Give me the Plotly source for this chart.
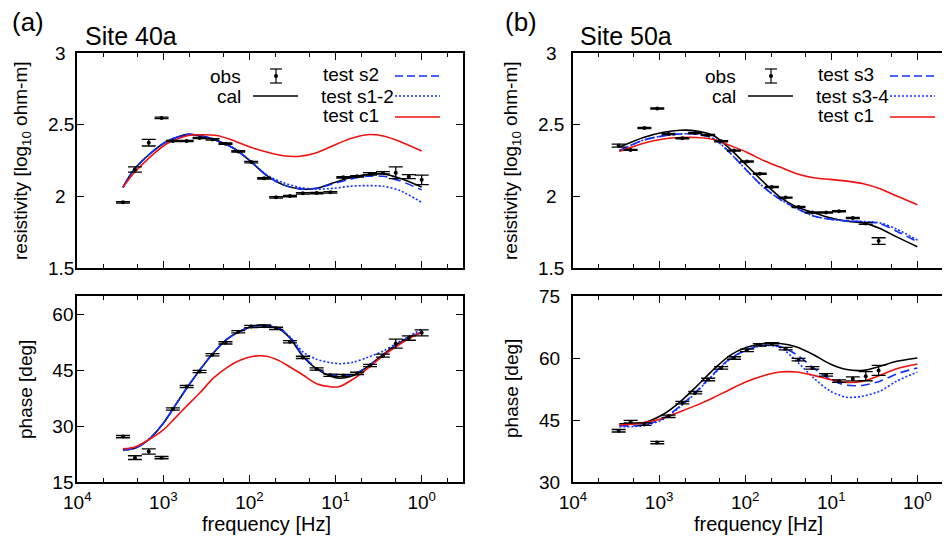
import numpy as np
import plotly.graph_objects as go

# page is 950x540; the html body adds an 8 px margin, so the figure is drawn 8 px in
W, H = 950, 540
OX, OY = 8, 8
FW, FH = W - OX, H - OY
FONT = "Liberation Sans, Arial, Helvetica, sans-serif"
BLUE = "#1030ff"
RED = "#f01010"

# ---------------- Site 40a (panel a) ----------------
freq_obs_a = [2950, 2140, 1480, 1050, 776, 537, 380, 269, 190, 135, 95.5, 67.6,
              49.0, 33.9, 24.0, 16.6, 11.5, 8.13, 5.62, 3.98, 2.82, 2.0, 1.41, 1.0]
rho_obs_a = [1.958, 2.187, 2.374, 2.547, 2.386, 2.386, 2.407, 2.397, 2.367, 2.313, 2.239, 2.126,
             1.993, 2.002, 2.021, 2.023, 2.028, 2.133, 2.140, 2.157, 2.164, 2.164, 2.138, 2.115]
rho_err_a = [0.005, 0.018, 0.023, 0.005, 0.005, 0.005, 0.005, 0.005, 0.005, 0.005, 0.005, 0.005,
             0.005, 0.005, 0.005, 0.005, 0.005, 0.005, 0.005, 0.008, 0.008, 0.041, 0.014, 0.033]
phs_obs_a = [27.2, 21.55, 23.2, 21.55, 34.6, 40.7, 44.7, 49.2, 52.4, 55.4, 56.8, 56.9,
             56.3, 52.7, 48.5, 45.4, 43.7, 43.6, 44.2, 46.3, 48.95, 52.2, 53.7, 55.1]
phs_err_a = [0.3, 0.5, 0.7, 0.3, 0.3, 0.3, 0.3, 0.3, 0.3, 0.3, 0.3, 0.3,
             0.3, 0.3, 0.3, 0.3, 0.3, 0.3, 0.3, 0.3, 0.4, 1.2, 0.6, 0.8]

freq_rho_a = [2950, 2239, 1432, 916, 514, 355, 240, 154, 98.6, 63.1, 40.5, 25.9,
              16.6, 10.6, 6.81, 4.36, 2.79, 1.79, 1.0]
rho_cal_a = [2.063, 2.180, 2.297, 2.383, 2.432, 2.420, 2.390, 2.337, 2.248, 2.145, 2.080, 2.052,
             2.056, 2.094, 2.129, 2.152, 2.157, 2.126, 2.065]
rho_s2_a = [2.063, 2.180, 2.297, 2.383, 2.432, 2.420, 2.390, 2.337, 2.248, 2.145, 2.080, 2.052,
            2.056, 2.088, 2.119, 2.140, 2.140, 2.108, 2.045]
rho_s12_a = [2.063, 2.180, 2.297, 2.383, 2.432, 2.420, 2.390, 2.337, 2.250, 2.150, 2.095, 2.062,
             2.050, 2.056, 2.070, 2.075, 2.070, 2.040, 1.958]
rho_c1_a = [2.063, 2.157, 2.274, 2.367, 2.425, 2.430, 2.425, 2.390, 2.344, 2.309, 2.283, 2.280,
            2.304, 2.355, 2.402, 2.430, 2.421, 2.383, 2.316]

freq_phs_a = [2950, 2138, 1496, 1002, 767, 537, 376, 263, 185, 129, 90.4, 63.2,
              44.3, 33.9, 23.7, 16.6, 11.6, 8.89, 6.22, 4.37, 2.79, 1.95, 1.37, 1.0]
phs_cal_a = [23.6, 24.1, 26.3, 30.8, 34.8, 40.2, 45.2, 49.7, 53.3, 55.5, 56.9, 57.0,
             56.0, 53.7, 48.6, 45.4, 43.5, 42.9, 43.6, 45.8, 49.3, 51.9, 54.0, 55.1]
phs_s2_a = [23.6, 24.1, 26.3, 30.8, 34.8, 40.2, 45.2, 49.7, 53.3, 55.5, 56.9, 57.0,
            56.2, 53.9, 48.9, 45.6, 43.9, 43.5, 43.9, 45.9, 49.2, 51.9, 54.0, 55.3]
phs_s12_a = [23.6, 24.1, 26.3, 30.8, 34.8, 40.2, 45.2, 49.7, 53.3, 55.5, 56.9, 57.0,
             56.2, 54.0, 49.9, 48.0, 47.1, 46.8, 47.2, 48.4, 50.2, 52.3, 54.3, 56.1]
phs_c1_a = [23.9, 24.4, 26.3, 29.0, 31.7, 35.4, 39.0, 42.9, 45.7, 47.7, 48.8, 48.8,
            47.5, 45.9, 43.7, 41.4, 40.6, 40.7, 42.7, 45.3, 49.0, 51.5, 53.7, 55.3]

# ---------------- Site 50a (panel b) ----------------
freq_obs_b = [2950, 2140, 1480, 1050, 776, 537, 380, 269, 190, 135, 95.5, 67.6,
              49.0, 33.9, 24.0, 16.6, 11.5, 8.13, 5.62, 3.98, 2.82]
rho_obs_b = [2.354, 2.324, 2.477, 2.613, 2.435, 2.405, 2.442, 2.428, 2.384, 2.319, 2.243, 2.158,
             2.065, 1.991, 1.926, 1.887, 1.887, 1.896, 1.849, 1.810, 1.688]
rho_err_b = [0.010, 0.004, 0.004, 0.004, 0.004, 0.004, 0.004, 0.004, 0.004, 0.004, 0.004, 0.004,
             0.004, 0.004, 0.004, 0.004, 0.004, 0.004, 0.004, 0.006, 0.023]
phs_obs_b = [42.4, 44.6, 44.0, 39.55, 45.9, 49.2, 51.6, 54.8, 57.6, 60.0, 61.85, 63.2,
             63.4, 62.25, 59.6, 57.6, 55.9, 54.4, 54.95, 55.6, 57.0]
phs_err_b = [0.3, 0.3, 0.3, 0.3, 0.3, 0.3, 0.3, 0.3, 0.3, 0.3, 0.3, 0.3,
             0.3, 0.3, 0.3, 0.3, 0.3, 0.3, 0.5, 1.1, 1.2]

freq_crv_b = [2900, 1521, 891, 570, 365, 234, 150, 95.7, 61.4, 39.4, 25.2, 16.1,
              10.3, 6.61, 4.24, 2.71, 1.74, 1.0]
rho_cal_b = [2.342, 2.410, 2.447, 2.461, 2.456, 2.424, 2.331, 2.215, 2.100, 1.995, 1.926, 1.887,
             1.850, 1.826, 1.815, 1.775, 1.717, 1.648]
rho_s3_b = [2.319, 2.392, 2.422, 2.435, 2.435, 2.403, 2.303, 2.180, 2.065, 1.979, 1.915, 1.863,
            1.840, 1.829, 1.822, 1.810, 1.757, 1.683]
rho_s34_b = [2.319, 2.392, 2.422, 2.435, 2.435, 2.403, 2.303, 2.180, 2.065, 1.979, 1.915, 1.863,
             1.840, 1.829, 1.824, 1.815, 1.771, 1.695]
rho_c1_b = [2.313, 2.370, 2.400, 2.410, 2.410, 2.396, 2.354, 2.308, 2.250, 2.204, 2.158, 2.130,
            2.118, 2.106, 2.088, 2.053, 2.002, 1.942]
phs_cal_b = [44.1, 44.35, 46.4, 49.4, 53.2, 57.2, 60.65, 62.6, 63.5, 63.5, 62.65, 60.8,
             58.55, 57.2, 57.0, 58.0, 59.2, 60.0]
phs_s3_b = [43.6, 43.8, 45.4, 48.4, 52.0, 56.15, 59.85, 62.0, 63.05, 62.8, 60.8, 57.6,
            54.8, 53.4, 53.4, 54.4, 56.15, 57.6]
phs_s34_b = [43.4, 43.6, 45.2, 48.2, 51.8, 56.0, 59.7, 61.9, 63.0, 62.6, 59.2, 55.2,
             52.0, 50.5, 50.8, 52.0, 54.4, 56.6]
phs_c1_b = [43.8, 44.3, 45.5, 47.0, 48.6, 50.4, 52.4, 54.3, 55.7, 56.6, 56.6, 55.8,
            54.8, 54.1, 54.4, 55.8, 57.4, 58.55]

# axis ticks
major_tick_freqs = [1e4, 1e3, 1e2, 1e1, 1e0]
major_tick_text = ["10<sup>4</sup>", "10<sup>3</sup>", "10<sup>2</sup>", "10<sup>1</sup>", "10<sup>0</sup>"]
minor_tick_freqs = [5000, 2000, 500, 200, 50, 20, 5, 2, 0.5]
rho_ticks = [1.5, 2.0, 2.5, 3.0]
rho_tick_text = ["1.5", "2", "2.5", "3"]

legend_a = ["test s2", "test s1-2", "test c1"]
legend_b = ["test s3", "test s3-4", "test c1"]

fig = go.Figure()


def curves(fig, xa, ya, f, cal, t1, t2, c1):
    kw = dict(mode="lines", xaxis=xa, yaxis=ya, showlegend=False, hoverinfo="skip",
              line_shape="spline")
    fig.add_trace(go.Scatter(x=f, y=cal, line=dict(color="black", width=1.6, smoothing=0.8), **kw))
    fig.add_trace(go.Scatter(x=f, y=t1, line=dict(color=BLUE, width=1.6, dash="9px,5px", smoothing=0.8), **kw))
    fig.add_trace(go.Scatter(x=f, y=t2, line=dict(color=BLUE, width=1.6, dash="2px,2px", smoothing=0.8), **kw))
    fig.add_trace(go.Scatter(x=f, y=c1, line=dict(color=RED, width=1.6, smoothing=0.8), **kw))


def obs(fig, xa, ya, f, v, e):
    fig.add_trace(go.Scatter(x=f, y=v, mode="markers", xaxis=xa, yaxis=ya, showlegend=False,
                             marker=dict(color="black", size=4),
                             error_y=dict(type="data", array=e, width=7, thickness=1.3, color="black")))


curves(fig, "x", "y", freq_rho_a, rho_cal_a, rho_s2_a, rho_s12_a, rho_c1_a)
obs(fig, "x", "y", freq_obs_a, rho_obs_a, rho_err_a)
curves(fig, "x2", "y2", freq_phs_a, phs_cal_a, phs_s2_a, phs_s12_a, phs_c1_a)
obs(fig, "x2", "y2", freq_obs_a, phs_obs_a, phs_err_a)
curves(fig, "x3", "y3", freq_crv_b, rho_cal_b, rho_s3_b, rho_s34_b, rho_c1_b)
obs(fig, "x3", "y3", freq_obs_b, rho_obs_b, rho_err_b)
curves(fig, "x4", "y4", freq_crv_b, phs_cal_b, phs_s3_b, phs_s34_b, phs_c1_b)
obs(fig, "x4", "y4", freq_obs_b, phs_obs_b, phs_err_b)

tickfont = dict(family=FONT, size=19, color="black")


def xaxis(domain, rng, anchor, labels):
    return dict(type="log", domain=domain, range=rng, anchor=anchor, automargin=False,
                tickmode="array", tickvals=major_tick_freqs, ticktext=major_tick_text,
                ticks="inside", ticklen=7, tickwidth=1.3, tickcolor="black",
                showline=True, linecolor="black", linewidth=2, mirror="allticks",
                showgrid=False, zeroline=False, showticklabels=labels, tickfont=tickfont,
                ticklabelstandoff=2,
                minor=dict(tickmode="array", tickvals=minor_tick_freqs, ticks="inside",
                           ticklen=4, tickwidth=1.1, tickcolor="black", showgrid=False))


def yaxis(domain, rng, dtick, anchor, mirror, standoff, labels=True):
    d = dict(domain=domain, range=rng, dtick=dtick, tick0=0, anchor=anchor, automargin=False,
             ticks="inside", ticklen=7, tickwidth=1.3, tickcolor="black",
             showline=True, linecolor="black", linewidth=2,
             mirror="allticks" if mirror else False,
             showgrid=False, zeroline=False, tickfont=tickfont,
             showticklabels=labels, ticklabelstandoff=standoff)
    return d


def px(x):
    return (x - OX) / FW


def py(y):
    return 1 - (y - OY) / FH


xl = [px(77.3), px(463.0)]
xr = [px(573.0), 1.0]
yt = [py(268), py(53)]
yb = [py(482), py(296)]

fig.update_layout(
    width=FW, height=FH, margin=dict(l=0, r=0, t=0, b=0, pad=0, autoexpand=False),
    paper_bgcolor="white", plot_bgcolor="white", showlegend=False,
    font=dict(family=FONT, color="black"),
    xaxis=xaxis(xl, [4, -0.48], "y", False),
    yaxis=yaxis(yt, [1.5, 3.0], 0.5, "x", True, -2, labels=False),
    xaxis2=xaxis(xl, [4, -0.48], "y2", True),
    yaxis2=yaxis(yb, [15, 65], 15, "x2", True, -2),
    xaxis3=xaxis(xr, [4, -0.379], "y3", False),
    yaxis3=yaxis(yt, [1.5, 3.0], 0.5, "x3", False, 7, labels=False),
    xaxis4=xaxis(xr, [4, -0.379], "y4", True),
    yaxis4=yaxis(yb, [30, 75], 15, "x4", False, 7),
)

shapes = []
ann = []


def text(x, y, s, size=19, xanchor="center", angle=0):
    ann.append(dict(x=px(x), y=py(y), xref="paper", yref="paper", text=s, showarrow=False,
                    xanchor=xanchor, yanchor="middle", textangle=angle,
                    font=dict(family=FONT, size=size, color="black")))


def seg(x0, y0, x1, y1, color="black", width=1.5, dash=None):
    line = dict(color=color, width=width)
    if dash:
        line["dash"] = dash
    shapes.append(dict(type="line", xref="paper", yref="paper", x0=px(x0), y0=py(y0),
                       x1=px(x1), y1=py(y1), line=line))


# centred resistivity tick labels (gnuplot style), placed on the axis' own scale
for yref, xc in (("y", 60.5), ("y3", 551)):
    for v, t in zip(rho_ticks, rho_tick_text):
        ann.append(dict(x=px(xc), y=v, xref="paper", yref=yref, text=t, showarrow=False,
                        xanchor="center", yanchor="middle",
                        font=dict(family=FONT, size=19, color="black")))


def legend(off, labels):
    # obs / cal column
    text(243 + off, 76, "obs", xanchor="right")
    ex = 276 + off
    seg(ex, 69, ex, 83, width=1.2)
    seg(ex - 6, 69, ex + 6, 69, width=1.2)
    seg(ex - 6, 83, ex + 6, 83, width=1.2)
    shapes.append(dict(type="circle", xref="paper", yref="paper", x0=px(ex - 2), x1=px(ex + 2),
                       y0=py(78), y1=py(74), fillcolor="black", line=dict(color="black", width=0)))
    text(243 + off, 96, "cal", xanchor="right")
    seg(253 + off, 96, 298 + off, 96, width=1.6)
    # test column
    text(321 + off, 75, labels[0], xanchor="left")
    seg(395 + off, 76, 440 + off, 76, color=BLUE, width=1.6, dash="8px,4px")
    text(319 + off, 96, labels[1], xanchor="left")
    seg(395 + off, 96, 440 + off, 96, color=BLUE, width=1.6, dash="2px,2px")
    text(321 + off, 116, labels[2], xanchor="left")
    seg(395 + off, 117, 440 + off, 117, color=RED, width=1.6)


legend(0, legend_a)
legend(495, legend_b)

# panel labels and titles
text(10, 22, "(a)", size=26, xanchor="left")
text(83, 36, "Site 40a", size=25, xanchor="left")
text(503, 22, "(b)", size=26, xanchor="left")
text(578, 36, "Site 50a", size=25, xanchor="left")

# axis titles
text(22, 161, "resistivity [log<sub>10</sub> ohm-m]", angle=-90)
text(25, 390, "phase [deg]", angle=-90)
text(512, 161, "resistivity [log<sub>10</sub> ohm-m]", angle=-90)
text(511, 389, "phase [deg]", angle=-90)
text(266, 524, "frequency [Hz]", size=20)
text(758, 524, "frequency [Hz]", size=20)

fig.update_layout(shapes=shapes, annotations=ann)
fig.write_html("out.html")
